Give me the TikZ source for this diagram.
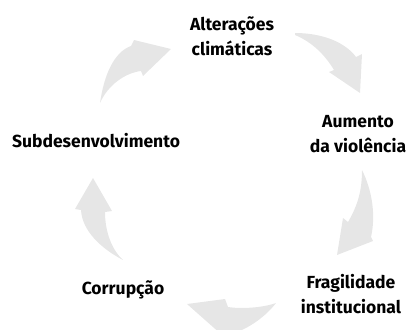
\documentclass[tikz,border=0pt]{standalone}
\usepackage{fontspec}
\setmainfont{Fira Sans}
\definecolor{cinza}{RGB}{230,230,230}
\begin{document}
\begin{tikzpicture}[x=1pt,y=-1pt,
	every node/.style={font=\bfseries\fontsize{17.5}{24.5}\selectfont,align=center,inner sep=0pt},
	seta/.style={fill=cinza,draw=none}]
	\useasboundingbox (0,0) rectangle (411,329);
	\clip (0,0) rectangle (411,329);
	% setas do ciclo
	\fill[seta] (100,103) .. controls (104,75) and (114,52) .. (131,46) -- (134,40) -- (171,49) -- (143,76) -- (141,71) .. controls (125,73) and (108,85) .. (100,103) -- cycle;
	\fill[seta] (295,33) .. controls (322,33) and (345,42) .. (356,57) -- (362,54) -- (360,93) -- (329,72) -- (334,70) .. controls (325,55) and (312,42) .. (295,35) -- cycle;
	\fill[seta] (362,170) .. controls (372,190) and (376,215) .. (371,237) -- (373,241) -- (337,255) -- (343,218) -- (348,222) .. controls (358,205) and (362,190) .. (362,170) -- cycle;
	\fill[seta] (276,303) .. controls (262,308) and (240,309) .. (228,307) -- (225,299) -- (187,304) -- (222,335) -- (232,334) .. controls (250,328) and (266,316) .. (276,303) -- cycle;
	\fill[seta] (93,178) -- (112,211) -- (105,212) .. controls (105,232) and (112,250) .. (123,260) .. controls (100,248) and (82,230) .. (81,210) -- (75,209) -- cycle;
	% textos
	\node (alt) at (232,36) {Alterações\\climáticas};
	\node (aum) at (358,134) {Aumento\\da violência};
	\node (frag) at (351,294) {Fragilidade\\institucional};
	\node (cor) at (123,290) {Corrupção};
	\node (sub) at (96,141) {Subdesenvolvimento};
\end{tikzpicture}
\end{document}
